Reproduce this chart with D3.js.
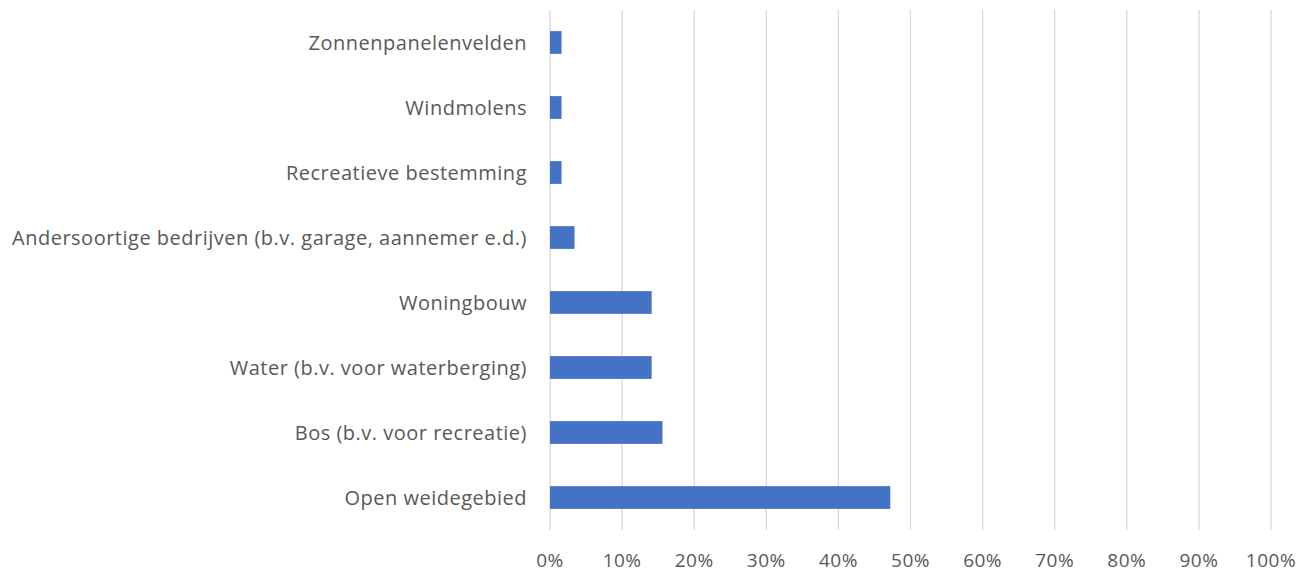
<!DOCTYPE html>
<html>
<head>
<meta charset="utf-8">
<script src="https://cdn.jsdelivr.net/npm/d3@7"></script>
<style>
  body { margin: 0; background: #fff; }
  text { font-family: "Open Sans", sans-serif; fill: #595959; }
</style>
</head>
<body>
<svg id="chart"></svg>
<script>
// categories from top to bottom
const categories = [
  "Zonnenpanelenvelden",
  "Windmolens",
  "Recreatieve bestemming",
  "Andersoortige bedrijven (b.v. garage, aannemer e.d.)",
  "Woningbouw",
  "Water (b.v. voor waterberging)",
  "Bos (b.v. voor recreatie)",
  "Open weidegebied"
];
const values = [1.6, 1.6, 1.6, 3.4, 14.1, 14.1, 15.6, 47.2];
const tickValues = [0, 10, 20, 30, 40, 50, 60, 70, 80, 90, 100];

const width = 1309, height = 573;
const margin = {top: 10, right: 38, bottom: 43, left: 550};

const svg = d3.select("#chart")
  .attr("width", width)
  .attr("height", height);

const x = d3.scaleLinear().domain([0, 100]).range([margin.left, width - margin.right]);
const y = d3.scaleBand().domain(categories).range([margin.top, height - margin.bottom]).paddingInner(0.65).paddingOuter(0.325);

// gridlines
svg.append("g")
  .selectAll("line")
  .data(tickValues)
  .join("line")
  .attr("x1", d => x(d)).attr("x2", d => x(d))
  .attr("y1", margin.top).attr("y2", height - margin.bottom)
  .attr("stroke", "#d9d9d9")
  .attr("stroke-width", 1.3);

// bars
svg.append("g")
  .selectAll("rect")
  .data(values)
  .join("rect")
  .attr("x", x(0))
  .attr("y", (d, i) => y(categories[i]))
  .attr("width", d => x(d) - x(0))
  .attr("height", y.bandwidth())
  .attr("fill", "#4472c4");

// category labels
svg.append("g")
  .selectAll("text")
  .data(categories)
  .join("text")
  .attr("x", margin.left - 23)
  .attr("y", d => y(d) + y.bandwidth() / 2)
  .attr("dy", "0.38em")
  .attr("text-anchor", "end")
  .style("font-size", "20px")
  .style("letter-spacing", "0.5px")
  .text(d => d);

// tick labels
svg.append("g")
  .selectAll("text")
  .data(tickValues)
  .join("text")
  .attr("x", d => x(d))
  .attr("y", 567)
  .attr("text-anchor", "middle")
  .style("font-size", "19px")
  .style("letter-spacing", "0.5px")
  .text(d => d + "%");
</script>
</body>
</html>
